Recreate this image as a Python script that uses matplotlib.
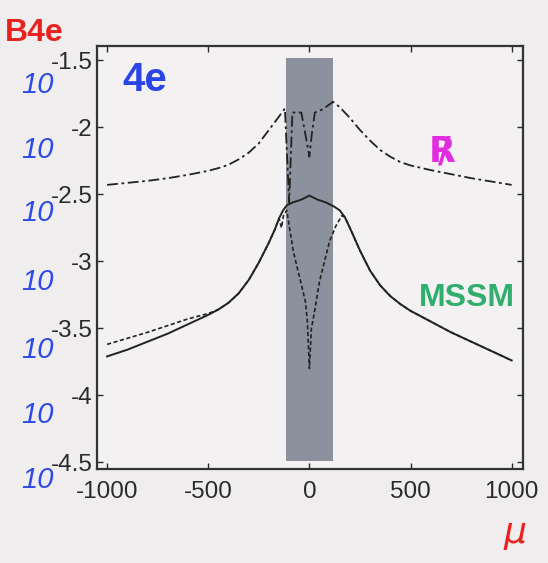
import matplotlib
matplotlib.use("Agg")
import matplotlib.pyplot as plt

# ---- data (log10 of branching ratio vs mu) ----
mu_rpv = [-1000, -900, -800, -700, -600, -500, -450, -400, -350, -300, -250, -200, -160,
          -121, -100, -84, -60, -40, -20, 0, 12, 27, 60, 90, 117, 150, 200, 250,
          300, 350, 400, 450, 500, 600, 700, 800, 900, 1000]
logB_rpv = [-2.43, -2.415, -2.40, -2.38, -2.355, -2.325, -2.305, -2.28, -2.24, -2.19, -2.12, -2.02, -1.94,
            -1.86, -2.56, -1.89, -1.89, -1.89, -2.05, -2.22, -2.05, -1.89, -1.87, -1.84, -1.81, -1.85, -1.93, -2.02,
            -2.10, -2.17, -2.22, -2.26, -2.285, -2.32, -2.35, -2.38, -2.405, -2.43]

mu_mssm = [-1000, -900, -800, -700, -600, -500, -450, -400, -350, -300, -250, -200, -170, -150,
           -130, -110, -80, -40, 0, 40, 80, 120, 150, 175, 200, 250, 300, 350, 400, 450, 500, 600,
           700, 800, 900, 1000]
logB_mssm = [-3.71, -3.66, -3.60, -3.54, -3.47, -3.40, -3.36, -3.31, -3.24, -3.14, -3.01, -2.86, -2.76, -2.68,
             -2.62, -2.58, -2.56, -2.54, -2.51, -2.54, -2.56, -2.59, -2.62, -2.67, -2.75, -2.92, -3.07, -3.18,
             -3.26, -3.32, -3.37, -3.45, -3.53, -3.60, -3.67, -3.74]

mu_dash = [-1000, -900, -800, -700, -600, -500, -450, -400, -350, -300, -250, -200, -170, -150,
           -138, -128, -112, -95, -80, -60, -40, -20, -10, 0, 10, 25, 50, 75, 100,
           130, 160, 175, 200, 250, 300, 350, 400, 450, 500, 600, 700, 800, 900, 1000]
logB_dash = [-3.62, -3.575, -3.53, -3.48, -3.43, -3.39, -3.36, -3.31, -3.24, -3.14, -3.01, -2.86, -2.76, -2.68,
             -2.75, -2.66, -2.62, -2.78, -2.92, -3.05, -3.17, -3.30, -3.45, -3.80, -3.50, -3.38, -3.15, -3.00, -2.85,
             -2.74, -2.66, -2.67, -2.75, -2.92, -3.07, -3.18, -3.26, -3.32, -3.37, -3.45, -3.53, -3.60, -3.67, -3.74]

band_mu = [-115, 115]
band_logB = [-4.49, -1.48]

xticks = [-1000, -500, 0, 500, 1000]
yticks = [-4.5, -4.0, -3.5, -3.0, -2.5, -2.0, -1.5]
ytick_labels = ["-4.5", "-4", "-3.5", "-3", "-2.5", "-2", "-1.5"]

plt.rcParams["font.family"] = ["Liberation Sans", "DejaVu Sans"]

bg = "#efedee"
fig = plt.figure(figsize=(5.48, 5.63), dpi=100, facecolor=bg)
ax = fig.add_axes([0.177, 0.167, 0.777, 0.751], facecolor="#f3f1f2")

ax.fill_between(band_mu, band_logB[0], band_logB[1], color="#8c929d", lw=0, zorder=1)
ax.plot(mu_rpv, logB_rpv, color="#222222", lw=1.3, ls=(0, (6, 2, 1.5, 2)), zorder=3)
ax.plot(mu_mssm, logB_mssm, color="#222222", lw=1.4, ls="-", zorder=3)
ax.plot(mu_dash, logB_dash, color="#222222", lw=1.2, ls=(0, (2.5, 1.5)), zorder=3)

ax.set_xlim(-1050, 1055)
ax.set_ylim(-4.55, -1.395)
ax.set_xticks(xticks)
ax.set_xticklabels([str(t) for t in xticks])
ax.set_yticks(yticks)
ax.set_yticklabels(ytick_labels)
ax.tick_params(direction="in", length=4, width=1, top=True, right=True,
               labelsize=17.5, colors="#2a2a2a", pad=3)
ax.tick_params(axis="x", pad=9)
for s in ax.spines.values():
    s.set_linewidth(1.6)
    s.set_color("#333333")

# handwritten annotations
fig.text(5 / 548, 1 - 33 / 563, "B4e", color="#e8231f", fontsize=23, fontweight="bold",
         va="center", ha="left")
fig.text(122 / 548, 1 - 80 / 563, "4e", color="#2a45e6", fontsize=29, fontweight="bold",
         va="center", ha="left")
ten_y = [480, 415, 350, 282, 213, 150, 85]
for yy in ten_y:
    fig.text(38 / 548, 1 - yy / 563, "10", color="#2e4ae8", fontsize=21, style="italic",
             va="center", ha="center")
fig.text(442 / 548, 1 - 152 / 563, r"$\mathbf{R}\!\!\!\mathbf{/}$", color="#e22ce0",
         fontsize=25, va="center", ha="center")
fig.text(467 / 548, 1 - 298 / 563, "MSSM", color="#2fae6e", fontsize=23, fontweight="bold",
         va="center", ha="center")
fig.text(515 / 548, 1 - 535 / 563, r"$\mu$", color="#e8231f", fontsize=26,
         va="center", ha="center")

fig.savefig("out.png", dpi=100, facecolor=bg)
